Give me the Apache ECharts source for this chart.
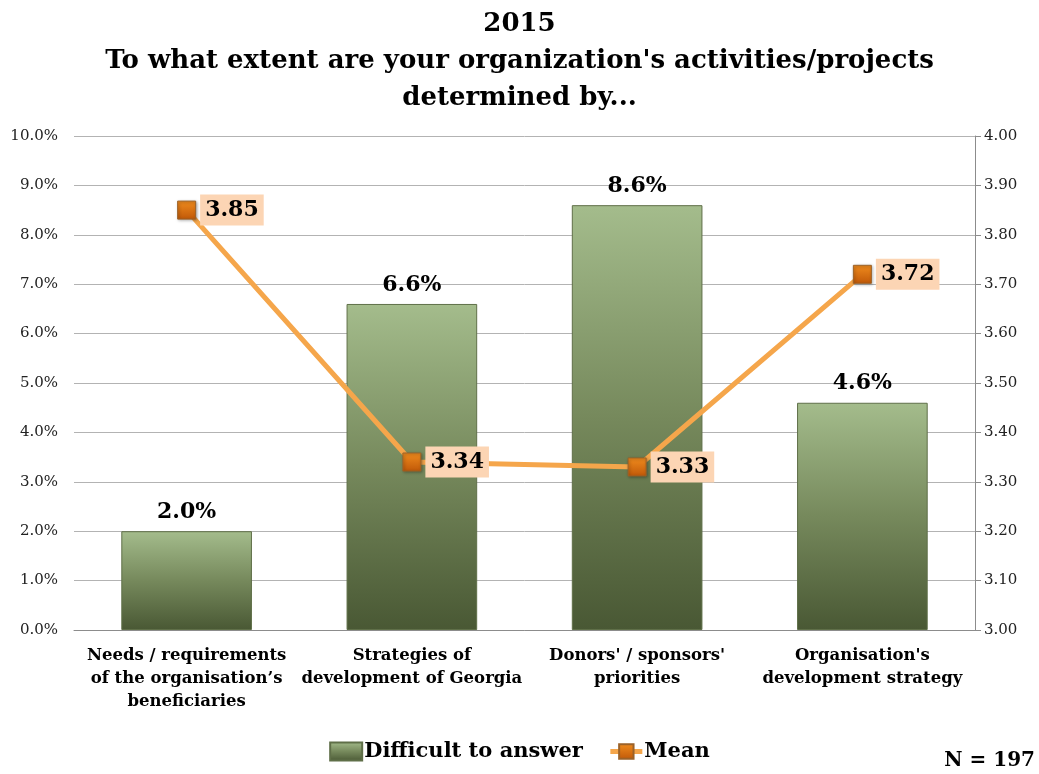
<!DOCTYPE html>
<html>
<head>
<meta charset="utf-8">
<script src="https://cdn.jsdelivr.net/npm/echarts@6/dist/echarts.min.js"></script>
<style>html,body{margin:0;padding:0;background:#fff}#c{width:1039px;height:774px}</style>
</head>
<body>
<div id="c"></div>
<script>
const titleLines = ["2015", "To what extent are your organization's activities/projects", "determined by..."];
const categories = ["Needs / requirements\nof the organisation’s\nbeneficiaries", "Strategies of\ndevelopment of Georgia", "Donors' / sponsors'\npriorities", "Organisation's\ndevelopment strategy"];
const difficultValues = [2.0, 6.6, 8.6, 4.6];
const meanValues = [3.85, 3.34, 3.33, 3.72];
const seriesNames = ["Difficult to answer", "Mean"];
const sampleNote = "N = 197";

const FONT = "'DejaVu Serif', 'Liberation Serif', serif";
const chart = echarts.init(document.getElementById('c'), null, {renderer: 'canvas'});
chart.setOption({
  animation: false,
  backgroundColor: '#fff',
  textStyle: {fontFamily: FONT},
  title: {
    text: titleLines.join('\n'),
    left: 'center', top: 1,
    textStyle: {fontFamily: FONT, fontSize: 26, fontWeight: 'bold', color: '#000', lineHeight: 37}
  },
  grid: {left: 74, right: 64, top: 136, bottom: 144, containLabel: false},
  legend: {
    bottom: 7, left: 'center', itemWidth: 32, itemHeight: 18, itemGap: 25,
    textStyle: {fontFamily: FONT, fontSize: 21, fontWeight: 'bold', color: '#000', padding: [0, 0, 0, -3]},
    data: [{name: seriesNames[0], icon: 'rect'}, {name: seriesNames[1], lineStyle: {width: 5, color: '#f5a64b'}}]
  },
  graphic: [{
    type: 'text', right: 4, bottom: 3,
    style: {text: sampleNote, font: "bold 20px " + FONT, fill: '#000'}
  }],
  xAxis: {
    type: 'category', data: categories,
    axisLine: {show: true, lineStyle: {color: '#8c8c8c', width: 1}},
    axisTick: {show: false},
    axisLabel: {interval: 0, margin: 14, fontFamily: FONT, fontSize: 16.5, fontWeight: 'bold', color: '#000', lineHeight: 23}
  },
  yAxis: [{
    type: 'value', min: 0, max: 10, interval: 1,
    axisLine: {show: false}, axisTick: {show: false},
    axisLabel: {formatter: v => v.toFixed(1) + '%', margin: 16, fontFamily: FONT, fontSize: 15, color: '#222'},
    splitLine: {lineStyle: {color: '#b3b3b3', width: 1}}
  }, {
    type: 'value', min: 3, max: 4, interval: 0.1, position: 'right',
    axisLine: {show: true, lineStyle: {color: '#8c8c8c'}},
    axisTick: {show: true, length: 6, lineStyle: {color: '#8c8c8c'}},
    axisLabel: {formatter: v => v.toFixed(2), margin: 9, fontFamily: FONT, fontSize: 15, color: '#222'},
    splitLine: {show: false}
  }],
  series: [{
    name: seriesNames[0], type: 'bar', yAxisIndex: 0, data: difficultValues, barWidth: '58%',
    itemStyle: {
      color: new echarts.graphic.LinearGradient(0, 0, 0, 1, [
        {offset: 0, color: '#a4bc8c'}, {offset: 0.5, color: '#76895c'}, {offset: 1, color: '#495834'}
      ]),
      borderColor: '#5f6f48', borderWidth: 1
    },
    label: {show: true, position: 'top', distance: 8, formatter: p => p.value.toFixed(1) + '%',
      fontFamily: FONT, fontSize: 22, fontWeight: 'bold', color: '#000'}
  }, {
    name: seriesNames[1], type: 'line', yAxisIndex: 1, data: meanValues,
    symbol: 'rect', symbolSize: 18, z: 5,
    lineStyle: {color: '#f5a64b', width: 5},
    itemStyle: {
      color: new echarts.graphic.LinearGradient(0, 0, 0, 1, [
        {offset: 0, color: '#f08c1e'}, {offset: 1, color: '#c05808'}
      ]),
      borderColor: '#9c6228', borderWidth: 1,
      shadowColor: 'rgba(0,0,0,0.35)', shadowBlur: 3, shadowOffsetX: 1, shadowOffsetY: 1
    },
    label: {show: true, position: 'right', distance: 4, formatter: p => p.value.toFixed(2),
      backgroundColor: '#fcd5b4', padding: [5, 5, 4, 5],
      fontFamily: FONT, fontSize: 22, fontWeight: 'bold', color: '#000'}
  }]
});
</script>
</body>
</html>
